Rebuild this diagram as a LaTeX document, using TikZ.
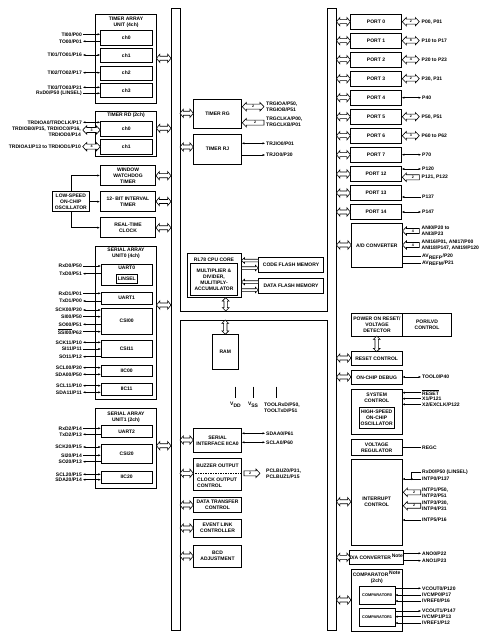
\documentclass[tikz,border=0pt]{standalone}
\usepackage{fontspec}
\setmainfont{Liberation Sans}
\usetikzlibrary{arrows.meta}
\newcommand{\dfont}{\fontsize{5}{6}\selectfont\bfseries}
\newcommand{\cfont}{\fontsize{3.6}{4}\selectfont\bfseries}
\newcommand{\sfont}{\fontsize{3.9}{4.5}\selectfont\bfseries}
\newcommand{\ovl}[1]{$\overline{\mbox{#1}}$}
\tikzset{
 box/.style={draw,line width=0.7pt,inner sep=0pt,align=center,font=\dfont},
 txt/.style={inner sep=0pt,align=center,font=\dfont},
 lbl/.style={inner sep=0pt,font=\dfont},
 cnt/.style={inner sep=0pt,font=\cfont},
 wire/.style={line width=0.55pt},
 fat/.style={draw,fill=white,line width=0.6pt,line join=miter},
 bus/.style={draw,line width=0.8pt},
 >={Latex[length=2.6pt,width=2.2pt]}
}
\newcommand{\bx}[7][]{\node[box,#1,minimum width=#5pt-#3pt,minimum height=#6pt-#4pt] (#2) at ({(#3+#5)/2},{(#4+#6)/2}) {#7};}
\newcommand{\lpin}[5]{\node[lbl,anchor=east] (#1) at (82,#2) {#5}; \draw[wire,#3] ([xshift=0.8pt]#1.east) -- (#4,#2);}
\newcommand{\rpin}[5]{\node[lbl,anchor=west] (#1) at (422,#2) {#5}; \draw[wire,#3] (#4,#2) -- ([xshift=-0.8pt]#1.west);}
\newcommand{\mpin}[5]{\node[lbl,anchor=west] (#1) at (266,#2) {#5}; \draw[wire,#3] (#4,#2) -- ([xshift=-0.8pt]#1.west);}
\newcommand{\fdbl}[3]{\draw[fat] (#1,#3) -- (#1+3.4,#3-4.2) -- (#1+3.4,#3-2) -- (#2-3.4,#3-2) -- (#2-3.4,#3-4.2) -- (#2,#3) -- (#2-3.4,#3+4.2) -- (#2-3.4,#3+2) -- (#1+3.4,#3+2) -- (#1+3.4,#3+4.2) -- cycle;}
\newcommand{\fdblv}[3]{\draw[fat] (#1,#2) -- (#1+3.4,#2+3.4) -- (#1+1.7,#2+3.4) -- (#1+1.7,#3-3.4) -- (#1+3.4,#3-3.4) -- (#1,#3) -- (#1-3.4,#3-3.4) -- (#1-1.7,#3-3.4) -- (#1-1.7,#2+3.4) -- (#1-3.4,#2+3.4) -- cycle;}
\newcommand{\cdbl}[4]{\draw[fat] (#1,#3) -- (#1+4,#3-4.2) -- (#1+4,#3-2.5) -- (#2-4,#3-2.5) -- (#2-4,#3-4.2) -- (#2,#3) -- (#2-4,#3+4.2) -- (#2-4,#3+2.5) -- (#1+4,#3+2.5) -- (#1+4,#3+4.2) -- cycle; \node[cnt] at ({(#1+#2)/2},#3) {#4};}
\newcommand{\cntl}[4]{\draw[fat] (#1,#3) -- (#1+4,#3-4.2) -- (#1+4,#3-2.5) -- (#2,#3-2.5) -- (#2,#3+2.5) -- (#1+4,#3+2.5) -- (#1+4,#3+4.2) -- cycle; \node[cnt] at ({(#1+4+#2)/2},#3) {#4};}
\newcommand{\cntr}[4]{\draw[fat] (#2,#3) -- (#2-4,#3-4.2) -- (#2-4,#3-2.5) -- (#1,#3-2.5) -- (#1,#3+2.5) -- (#2-4,#3+2.5) -- (#2-4,#3+4.2) -- cycle; \node[cnt] at ({(#1+#2-4)/2},#3) {#4};}
\newcommand{\sarl}[3]{\draw[fat] (#1,#3) -- (#1+3,#3-2.8) -- (#1+3,#3-1.3) -- (#2,#3-1.3) -- (#2,#3+1.3) -- (#1+3,#3+1.3) -- (#1+3,#3+2.8) -- cycle;}
\newcommand{\sarr}[3]{\draw[fat] (#2,#3) -- (#2-3,#3-2.8) -- (#2-3,#3-1.3) -- (#1,#3-1.3) -- (#1,#3+1.3) -- (#2-3,#3+1.3) -- (#2-3,#3+2.8) -- cycle;}
\begin{document}
\begin{tikzpicture}[x=1pt,y=-1pt]
\fill[white] (0,0) rectangle (489,639);
\useasboundingbox (0,0) rectangle (489,639);
% internal bus (H shape)
\draw[bus] (171,8) -- (180,8) -- (180,311) -- (327.5,311) -- (327.5,8) -- (336.5,8) -- (336.5,630.5) -- (327.5,630.5) -- (327.5,320) -- (180,320) -- (180,630.5) -- (171,630.5) -- cycle;
% ---------------- LEFT COLUMN ----------------
\bx{tau}{95.7}{14.3}{156.3}{103.3}{}
\node[txt] (tautitle) at (126,22.2) {TIMER ARRAY\\UNIT (4ch)};
\bx{ch0}{100.3}{30.7}{152.3}{45.3}{ch0}
\bx{ch1}{100.3}{48.3}{152.3}{62.7}{ch1}
\bx{ch2}{100.3}{66}{152.3}{80.3}{ch2}
\bx{ch3}{100.3}{83.3}{152.3}{97.7}{ch3}
\lpin{ti00}{34.3}{->}{100.3}{TI00/P00}
\lpin{to00}{41.3}{<-}{100.3}{TO00/P01}
\lpin{ti01}{55}{<->}{100.3}{TI01/TO01/P16}
\lpin{ti02}{72.7}{<->}{100.3}{TI02/TO02/P17}
\lpin{ti03}{87.3}{<->}{100.3}{TI03/TO03/P31}
\lpin{rxdlin}{93.3}{->}{100.3}{RxD0/P50 (LINSEL)}
% timer RD
\bx{trd}{95.7}{111}{156.3}{156.7}{}
\node[txt] (trdtitle) at (126,115.7) {TIMER RD (2ch)};
\bx{rd0}{100.3}{121}{152.3}{136.7}{ch0}
\bx{rd1}{100.3}{139.3}{152.3}{154.3}{ch1}
\lpin{trdioa0}{122.3}{<->}{100.3}{TRDIOA0/TRDCLK/P17}
\node[lbl,anchor=east,align=right] (trdiob) at (81,131.9) {TRDIOB0/P15, TRDIOC0/P16,\\TRDIOD0/P14};
\cdbl{82.7}{100.3}{130}{3}
\node[lbl,anchor=east] (trdioa1) at (81,146.7) {TRDIOA1/P13 to TRDIOD1/P10};
\cdbl{82.7}{100.3}{146.7}{4}
% WDT, interval timer, RTC, low-speed osc
\bx{wdt}{100.3}{165.3}{155.7}{185.7}{WINDOW\\WATCHDOG\\TIMER}
\bx{itv}{100.3}{191}{155.7}{211.7}{12- BIT INTERVAL\\TIMER}
\bx{rtc}{100.3}{217.7}{155.7}{237.7}{REAL-TIME\\CLOCK}
\bx{lso}{52.3}{191.7}{89.3}{211.7}{LOW-SPEED\\ON-CHIP\\OSCILLATOR}
\draw[wire,->] (lso.north) |- (wdt.west);
\draw[wire,->] (lso.east) -- (lso.east -| itv.west);
\draw[wire,->] (lso.south) |- (rtc.west);
% SAU0
\bx{sau0}{95.7}{246}{156.3}{399.7}{}
\node[txt] (sau0title) at (126,253.7) {SERIAL ARRAY\\UNIT0 (4ch)};
\bx{uart0}{101}{264}{152.3}{285.7}{}
\node[txt] (uart0t) at (126.7,268) {UART0};
\bx{linsel}{116}{274}{137.7}{283.3}{LINSEL}
\bx{uart1}{101}{292.3}{152.3}{304.3}{UART1}
\bx{csi00}{101}{308.3}{152.3}{334}{CSI00}
\bx{csi11}{101}{340}{152.3}{357.7}{CSI11}
\bx{iic00}{101}{365.3}{152.3}{376.7}{IIC00}
\bx{iic11}{101}{383.3}{152.3}{395}{IIC11}
\lpin{rxd0}{266}{->}{101}{RxD0/P50}
\lpin{txd0}{273.7}{<-}{101}{TxD0/P51}
\lpin{rxd1}{293.3}{->}{101}{RxD1/P01}
\lpin{txd1}{301}{<-}{101}{TxD1/P00}
\lpin{sck00}{310}{<->}{101}{SCK00/P30}
\lpin{si00}{316.7}{->}{101}{SI00/P50}
\lpin{so00}{324.3}{<-}{101}{SO00/P51}
\lpin{ssi00}{331.7}{->}{101}{\ovl{SSI00}/P62}
\lpin{sck11}{342.3}{<->}{101}{SCK11/P10}
\lpin{si11}{349}{->}{101}{SI11/P11}
\lpin{so11}{356.7}{<-}{101}{SO11/P12}
\lpin{scl00}{367.7}{<->}{101}{SCL00/P30}
\lpin{sda00}{374.3}{<->}{101}{SDA00/P50}
\lpin{scl11}{385.7}{<->}{101}{SCL11/P10}
\lpin{sda11}{392.3}{<->}{101}{SDA11/P11}
% SAU1
\bx{sau1}{95.7}{408.3}{156.3}{488.3}{}
\node[txt] (sau1title) at (126,417) {SERIAL ARRAY\\UNIT1 (2ch)};
\bx{uart2}{101}{425.3}{152.3}{437.3}{UART2}
\bx{csi20}{101}{444.3}{152.3}{463.3}{CSI20}
\bx{iic20}{101}{471.3}{152.3}{483}{IIC20}
\lpin{rxd2}{428.3}{->}{101}{RxD2/P14}
\lpin{txd2}{434.3}{<-}{101}{TxD2/P13}
\lpin{sck20}{447}{<->}{101}{SCK20/P15}
\lpin{si20}{455.3}{->}{101}{SI20/P14}
\lpin{so20}{461.7}{<-}{101}{SO20/P13}
\lpin{scl20}{474.3}{<->}{101}{SCL20/P15}
\lpin{sda20}{479.7}{<->}{101}{SDA20/P14}
% left bus arrows
\fdbl{156.5}{171}{58.3}
\fdbl{156.5}{171}{128.3}
\fdbl{156}{171}{175.7}
\fdbl{156}{171}{201.5}
\fdbl{156}{171}{227.7}
\fdbl{156.5}{171}{305}
\fdbl{156.5}{171}{445.7}
% ---------------- MIDDLE ----------------
\bx{trg}{193.3}{99}{241.7}{128.3}{TIMER RG}
\bx{trj}{193.3}{134.3}{241.7}{164.3}{TIMER RJ}
\cdbl{242.3}{264}{106.7}{2}
\node[lbl,anchor=west,align=left] (trgio) at (266,106.3) {TRGIOA/P50,\\TRGIOB/P51};
\cntl{242.3}{264}{122.7}{2}
\node[lbl,anchor=west,align=left] (trgclk) at (266,121.7) {TRGCLKA/P00,\\TRGCLKB/P01};
\mpin{trjio}{143.3}{<->}{241.7}{TRJIO0/P01}
\mpin{trjo}{155}{->}{241.7}{TRJO0/P30}
% CPU
\bx{cpu}{187}{253.3}{241}{297.7}{}
\node[txt] (cputitle) at (214,259.3) {RL78 CPU CORE};
\bx{mul}{190.3}{263.7}{237.7}{295}{MULTIPLIER \&\\DIVIDER,\\MULITIPLY-\\ACCUMULATOR}
\bx{cfl}{258.3}{257.3}{323.7}{272.7}{CODE FLASH MEMORY}
\bx{dfl}{258.3}{278.3}{323.7}{293.7}{DATA FLASH MEMORY}
\sarl{241.5}{258.3}{260.5}
\sarr{241.5}{258.3}{268}
\sarl{241.5}{258.3}{282}
\sarr{241.5}{258.3}{290}
\fdblv{225.7}{297.7}{311}
\fdblv{225.3}{320}{334.3}
\bx{ram}{212.3}{334.3}{238.3}{369}{RAM}
\node[lbl] (vdd) at (235.7,405) {V\textsubscript{DD}};
\node[lbl] (vss) at (253.3,405) {V\textsubscript{SS}};
\node[lbl,anchor=north west,align=left] (tool) at (264,402.6) {TOOLRxD/P50,\\TOOLTxD/P51};
\coordinate (vddt) at (235.7,386.7);
\coordinate (vsst) at (253.3,386.7);
\coordinate (toolt) at (276,386.7);
\draw[wire,line width=0.7pt] (vddt) -- ++(0,11.6);
\draw[wire,line width=0.7pt] (vsst) -- ++(0,11.6);
\draw[wire,line width=0.7pt] (toolt) -- ++(0,11.6);
% serial interface IICA0
\bx{iica}{193.3}{428.3}{241.7}{452.7}{SERIAL\\INTERFACE IICA0}
\mpin{sdaa0}{433.3}{<->}{241.7}{SDAA0/P61}
\mpin{scla0}{442.3}{<->}{241.7}{SCLA0/P60}
% buzzer / clock output
\bx{buz}{193.3}{458.3}{241.7}{490}{}
\draw[line width=0.7pt,dashed,dash pattern=on 1.5pt off 1pt] (buz.west |- 0,473.3) -- (buz.east |- 0,473.3);
\node[txt] (buzt) at (217.5,466) {BUZZER OUTPUT};
\node[txt,anchor=west,align=left] (clkt) at (197,482.4) {CLOCK OUTPUT\\CONTROL};
\cntr{244}{260}{473.3}{2}
\node[lbl,anchor=west,align=left] (pclbuz) at (266,473.8) {PCLBUZ0/P31,\\PCLBUZ1/P15};
\bx{dtc}{193.3}{497.3}{241.7}{512.7}{DATA TRANSFER\\CONTROL}
\bx{elc}{193.3}{519.3}{241.7}{537}{EVENT LINK\\CONTROLLER}
\bx{bcd}{193.3}{545}{241.7}{567}{BCD\\ADJUSTMENT}
% left bus -> middle arrows
\fdbl{180}{193.3}{113.3}
\fdbl{180}{193.3}{147}
\fdbl{180}{193.3}{440}
\fdbl{180}{193.3}{473.3}
\fdbl{180}{193.3}{505}
\fdbl{180}{193.3}{528}
\fdbl{180}{193.3}{556}
% ---------------- RIGHT COLUMN ----------------
\bx{port0}{350.3}{14.2}{401.7}{29.2}{PORT 0}
\bx{port1}{350.3}{33.2}{401.7}{48.2}{PORT 1}
\bx{port2}{350.3}{52.2}{401.7}{67.2}{PORT 2}
\bx{port3}{350.3}{71.2}{401.7}{86.2}{PORT 3}
\bx{port4}{350.3}{90.2}{401.7}{105.2}{PORT 4}
\bx{port5}{350.3}{109.2}{401.7}{124.2}{PORT 5}
\bx{port6}{350.3}{128.2}{401.7}{143.2}{PORT 6}
\bx{port7}{350.3}{147.2}{401.7}{162.2}{PORT 7}
\cdbl{402.3}{419.3}{21.7}{2}
\node[lbl,anchor=west] (p0l) at (421.5,21.7) {P00, P01};
\cdbl{402.3}{419.3}{40.7}{8}
\node[lbl,anchor=west] (p1l) at (421.5,40.7) {P10 to P17};
\cdbl{402.3}{419.3}{59.7}{4}
\node[lbl,anchor=west] (p2l) at (421.5,59.7) {P20 to P23};
\cdbl{402.3}{419.3}{78.7}{2}
\node[lbl,anchor=west] (p3l) at (421.5,78.7) {P30, P31};
\rpin{p4l}{97.7}{<->}{401.7}{P40}
\cdbl{402.3}{419.3}{116.7}{2}
\node[lbl,anchor=west] (p5l) at (421.5,116.7) {P50, P51};
\cdbl{402.3}{419.3}{135.7}{3}
\node[lbl,anchor=west] (p6l) at (421.5,135.7) {P60 to P62};
\rpin{p7l}{154.7}{<->}{401.7}{P70}
\bx{port12}{350.3}{166.7}{401.7}{181.7}{PORT 12}
\rpin{p120}{169}{<->}{401.7}{P120}
\cntl{402.3}{419.3}{177.3}{2}
\node[lbl,anchor=west] (p121) at (421.5,177.3) {P121, P122};
\bx{port13}{350.3}{185.7}{401.7}{200.7}{PORT 13}
\rpin{p137}{197}{<-}{401.7}{P137}
\bx{port14}{350.3}{204.7}{401.7}{219.7}{PORT 14}
\rpin{p147}{212}{<->}{401.7}{P147}
\bx{adc}{351.3}{223.3}{402.3}{267.3}{A/D CONVERTER}
\cntl{402.5}{419.3}{231}{4}
\node[lbl,anchor=west,align=left] (ani0) at (421.5,230.4) {ANI0/P20 to\\ANI3/P23};
\cntl{402.5}{419.3}{245}{4}
\node[lbl,anchor=west,align=left] (ani16) at (421.5,245) {ANI16/P01, ANI17/P00\\ANI18/P147, ANI19/P120};
\rpin{avrefp}{256.7}{}{402.3}{AV\textsubscript{REFP}/P20}
\rpin{avrefm}{263.3}{}{402.3}{AV\textsubscript{REFM}/P21}
% POR / LVD
\bx{por}{351.7}{313.3}{402.3}{336}{POWER ON RESET/\\VOLTAGE\\DETECTOR}
\bx{lvd}{402.3}{313.3}{451.7}{336}{POR/LVD\\CONTROL}
\fdblv{376.7}{336}{351.7}
\bx{rst}{351}{351.7}{402.3}{365}{RESET CONTROL}
\bx{ocd}{351}{370.7}{402.3}{384.3}{ON-CHIP DEBUG}
\rpin{tool0}{377}{<->}{402.3}{TOOL0/P40}
\bx{sys}{351}{389.3}{402.3}{434}{}
\node[txt] (syst) at (376.7,398) {SYSTEM\\CONTROL};
\bx{hso}{359.3}{407.7}{394}{428.3}{HIGH-SPEED\\ON-CHIP\\OSCILLATOR}
\rpin{reset}{392.7}{<-}{402.3}{\ovl{RESET}}
\rpin{x1}{398.7}{<-}{402.3}{X1/P121}
\rpin{x2}{404.3}{<-}{402.3}{X2/EXCLK/P122}
\bx{vreg}{351}{439.3}{402.3}{455.7}{VOLTAGE\\REGULATOR}
\rpin{regc}{447.3}{}{402.3}{REGC}
% interrupt
\bx{intc}{351}{459}{402.3}{545}{INTERRUPT\\CONTROL}
\node[lbl,anchor=west] (rxdint) at (422,472.3) {RxD0/P50 (LINSEL)};
\coordinate (jn) at (411.7,479);
\draw[wire] (jn) |- ([xshift=-0.8pt]rxdint.west);
\rpin{intp0}{479}{<-}{402.3}{INTP0/P137}
\fill (jn) circle (1.1pt);
\cntl{403.3}{420.7}{492.3}{2}
\node[lbl,anchor=west,align=left] (intp12) at (422,492.3) {INTP1/P50,\\INTP2/P51};
\cntl{403.3}{420.7}{505.7}{2}
\node[lbl,anchor=west,align=left] (intp34) at (422,505.9) {INTP3/P30,\\INTP4/P31};
\rpin{intp5}{520}{<-}{402.3}{INTP5/P16}
% D/A
\bx{dac}{350.3}{550}{402.7}{564.3}{D/A CONVERTER\,\textsuperscript{Note}}
\rpin{ano0}{553.3}{->}{402.7}{ANO0/P22}
\rpin{ano1}{560.7}{->}{402.7}{ANO1/P23}
% comparator
\bx{cmp}{351}{569}{402.7}{631.7}{}
\node[txt] (cmpt) at (376.8,577.6) {COMPARATOR\,\textsuperscript{Note}\\(2ch)};
\bx[font=\sfont]{cmp0}{359.3}{586}{395}{604.3}{COMPARATOR0}
\bx[font=\sfont]{cmp1}{359.3}{608.3}{395}{626.7}{COMPARATOR1}
\rpin{vcout0}{588.3}{->}{395}{VCOUT0/P120}
\rpin{ivcmp0}{595}{<-}{395}{IVCMP0/P17}
\rpin{ivref0}{601}{<-}{395}{IVREF0/P16}
\rpin{vcout1}{611}{->}{395}{VCOUT1/P147}
\rpin{ivcmp1}{616.7}{<-}{395}{IVCMP1/P13}
\rpin{ivref1}{623}{<-}{395}{IVREF1/P12}
% right bus arrows
\foreach \yy in {21.7,40.7,59.7,78.7,97.7,116.7,135.7,154.7,174,193,212}
  {\fdbl{336.5}{350.3}{\yy}}
\fdbl{336.5}{351.3}{245}
\fdbl{336.5}{351}{358}
\fdbl{336.5}{351}{377}
\fdbl{336.5}{351}{501.7}
\fdbl{336.5}{350.3}{557.3}
\fdbl{336.5}{351}{600}
\end{tikzpicture}
\end{document}
